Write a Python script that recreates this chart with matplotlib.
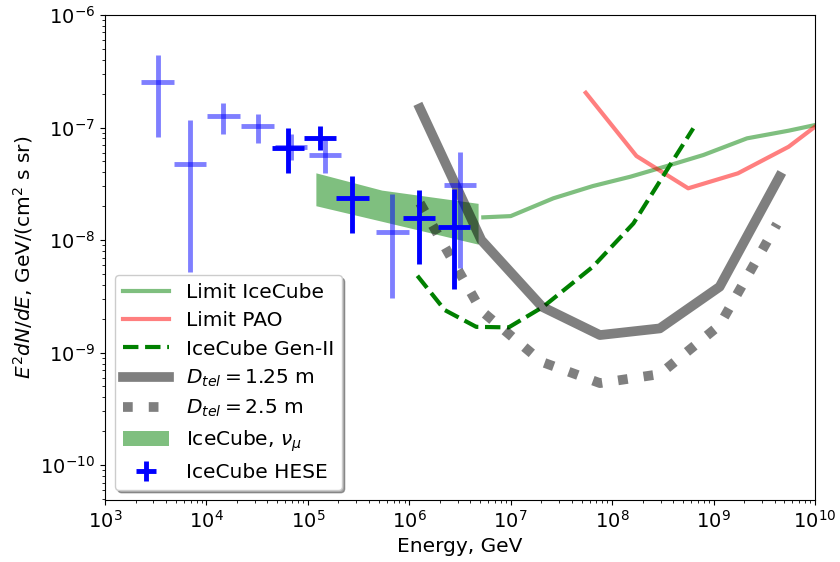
import numpy as np
import matplotlib
matplotlib.use("Agg")
import matplotlib.pyplot as plt

plt.rcParams['font.family'] = ['DejaVu Sans']
plt.rcParams['font.size'] = 14

# HESE points (light, alpha=0.5)
hese_l_x = [3.3e3, 6.9e3, 1.47e4, 3.2e4, 6.8e4, 1.48e5, 6.8e5, 3.16e6]
hese_l_y = [2.55e-7, 4.7e-8, 1.27e-7, 1.03e-7, 6.76e-8, 5.7e-8, 1.17e-8, 3.08e-8]
hese_l_yhi = [4.4e-7, 1.17e-7, 1.66e-7, 1.32e-7, 8.8e-8, 7.7e-8, 2.56e-8, 6.1e-8]
hese_l_ylo = [8.2e-8, 5.2e-9, 8.7e-8, 7.3e-8, 5.2e-8, 3.96e-8, 3.05e-9, 5.7e-9]

# HESE points (bold)
hese_b_x = [6.4e4, 1.32e5, 2.75e5, 1.25e6, 2.76e6]
hese_b_y = [6.6e-8, 8.0e-8, 2.35e-8, 1.56e-8, 1.32e-8]
hese_b_yhi = [1.0e-7, 1.03e-7, 3.7e-8, 2.78e-8, 2.82e-8]
hese_b_ylo = [3.96e-8, 6.3e-8, 1.16e-8, 6.1e-9, 3.7e-9]
hese_bin = 0.16  # half-width in decades

# IceCube nu_mu band
band_x = [1.2e5, 5.35e5, 4.77e6]
band_hi = [3.96e-8, 2.78e-8, 2.12e-8]
band_lo = [2.02e-8, 1.47e-8, 9.2e-9]

# Limit IceCube
lic_logx = [6.73, 7.0, 7.42, 7.81, 8.18, 8.54, 8.90, 9.33, 9.74, 10.0]
lic_logy = [-7.798, -7.787, -7.629, -7.52, -7.437, -7.342, -7.244, -7.096, -7.028, -6.978]

# Limit PAO
pao_logx = [7.74, 8.24, 8.75, 9.24, 9.74, 10.0]
pao_logy = [-6.691, -7.253, -7.54, -7.407, -7.171, -6.993]

# IceCube Gen-II
gen2_logx = [6.08, 6.35, 6.66, 6.98, 7.32, 7.81, 8.21, 8.54, 8.80]
gen2_logy = [-8.317, -8.622, -8.771, -8.776, -8.593, -8.237, -7.852, -7.378, -7.007]

# D_tel = 1.25 m
d125_logx = [6.105, 6.71, 7.31, 7.88, 8.47, 9.06, 9.65]
d125_logy = [-6.829, -8.0, -8.593, -8.844, -8.785, -8.415, -7.437]

# D_tel = 2.5 m
d25_logx = [6.105, 6.71, 7.31, 7.88, 8.47, 9.06, 9.625]
d25_logy = [-7.671, -8.628, -9.084, -9.271, -9.191, -8.756, -7.858]

fig = plt.figure(figsize=(8.4, 5.62), dpi=100)
ax = fig.add_axes([0.125, 0.1103, 0.8452, 0.8630])
ax.set_xscale('log')
ax.set_yscale('log')

def p10(a):
    return 10 ** np.asarray(a)

ax.plot(p10(lic_logx), p10(lic_logy), color='green', alpha=0.5, lw=3, label='Limit IceCube')
ax.plot(p10(pao_logx), p10(pao_logy), color='red', alpha=0.5, lw=3, label='Limit PAO')
ax.plot(p10(gen2_logx), p10(gen2_logy), color='green', lw=3, ls='--', label='IceCube Gen-II')
ax.plot(p10(d125_logx), p10(d125_logy), color='k', alpha=0.5, lw=7, label=r'$D_{tel} = 1.25$ m')
ax.plot(p10(d25_logx), p10(d25_logy), color='k', alpha=0.5, lw=7, ls=':', label=r'$D_{tel} = 2.5$ m')
ax.fill_between(band_x, band_lo, band_hi, color='green', alpha=0.5, lw=0, label=r'IceCube, $\nu_\mu$')

lx = np.array(hese_l_x)
ly = np.array(hese_l_y)
ax.errorbar(lx, ly,
            xerr=[lx - lx * 10 ** -hese_bin, lx * 10 ** hese_bin - lx],
            yerr=[ly - np.array(hese_l_ylo), np.array(hese_l_yhi) - ly],
            fmt='none', ecolor='blue', elinewidth=3.5, alpha=0.5)
bx = np.array(hese_b_x)
by = np.array(hese_b_y)
ax.errorbar(bx, by,
            xerr=[bx - bx * 10 ** -hese_bin, bx * 10 ** hese_bin - bx],
            yerr=[by - np.array(hese_b_ylo), np.array(hese_b_yhi) - by],
            fmt='none', ecolor='blue', elinewidth=3.5, label='IceCube HESE')

ax.set_xlim(1e3, 1e10)
ax.set_ylim(4.9e-11, 1e-6)
ax.set_xlabel('Energy, GeV', fontsize=14.5)
ax.set_ylabel(r'$E^2 dN/dE$, GeV/(cm$^2$ s sr)', fontsize=14.5)
ax.legend(loc='lower left', shadow=True, fontsize=14.5, handlelength=2.3,
          labelspacing=0.45)

fig.savefig('out.png', dpi=100)
